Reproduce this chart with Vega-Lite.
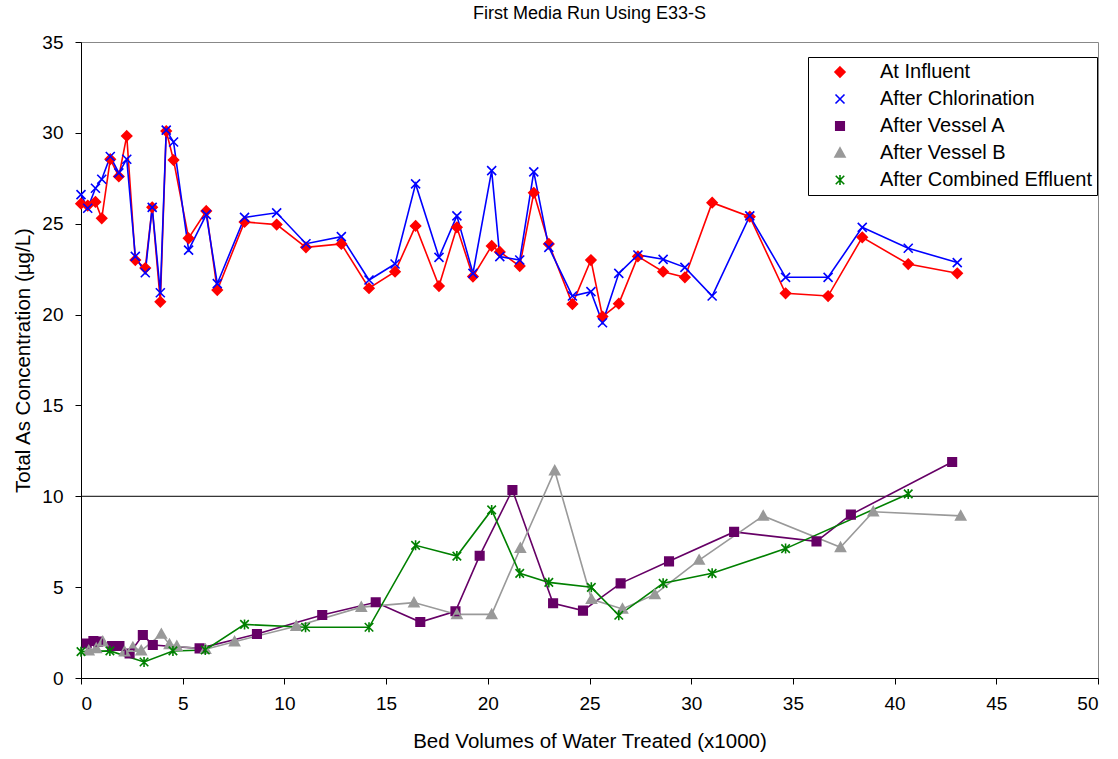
{
  "$schema": "https://vega.github.io/schema/vega-lite/v6.json",
  "width": 1017,
  "height": 636,
  "autosize": "none",
  "padding": {"left": 81, "top": 42, "right": 20, "bottom": 81},
  "background": "white",
  "config": {
    "font": "Liberation Sans",
    "view": {"stroke": "#888888", "strokeWidth": 1},
    "axis": {"grid": false, "domainColor": "black", "tickColor": "black", "labelColor": "black", "titleColor": "black", "labelFont": "Liberation Sans", "titleFont": "Liberation Sans", "titleFontWeight": "normal", "labelFontSize": 19, "titleFontSize": 20.5}
  },
  "title": {"text": "First Media Run Using E33-S", "fontSize": 18, "fontWeight": "normal", "font": "Liberation Sans", "color": "black", "anchor": "middle", "frame": "group", "offset": 10},
  "data": {"values": [
    {"s": "At Influent", "x": 0, "y": 26.1}, {"s": "At Influent", "x": 0.33, "y": 26.0}, {"s": "At Influent", "x": 0.71, "y": 26.2}, {"s": "At Influent", "x": 1.02, "y": 25.3}, {"s": "At Influent", "x": 1.44, "y": 28.55}, {"s": "At Influent", "x": 1.86, "y": 27.6}, {"s": "At Influent", "x": 2.25, "y": 29.83}, {"s": "At Influent", "x": 2.67, "y": 23.0}, {"s": "At Influent", "x": 3.16, "y": 22.56}, {"s": "At Influent", "x": 3.5, "y": 25.9}, {"s": "At Influent", "x": 3.9, "y": 20.7}, {"s": "At Influent", "x": 4.19, "y": 30.1}, {"s": "At Influent", "x": 4.55, "y": 28.5}, {"s": "At Influent", "x": 5.29, "y": 24.2}, {"s": "At Influent", "x": 6.16, "y": 25.7}, {"s": "At Influent", "x": 6.7, "y": 21.35}, {"s": "At Influent", "x": 8.04, "y": 25.1}, {"s": "At Influent", "x": 9.62, "y": 24.95}, {"s": "At Influent", "x": 11.06, "y": 23.7}, {"s": "At Influent", "x": 12.8, "y": 23.89}, {"s": "At Influent", "x": 14.16, "y": 21.45}, {"s": "At Influent", "x": 15.44, "y": 22.36}, {"s": "At Influent", "x": 16.45, "y": 24.88}, {"s": "At Influent", "x": 17.6, "y": 21.57}, {"s": "At Influent", "x": 18.48, "y": 24.8}, {"s": "At Influent", "x": 19.27, "y": 22.09}, {"s": "At Influent", "x": 20.19, "y": 23.78}, {"s": "At Influent", "x": 20.59, "y": 23.45}, {"s": "At Influent", "x": 21.57, "y": 22.67}, {"s": "At Influent", "x": 22.26, "y": 26.7}, {"s": "At Influent", "x": 23.0, "y": 23.89}, {"s": "At Influent", "x": 24.16, "y": 20.58}, {"s": "At Influent", "x": 25.07, "y": 23.0}, {"s": "At Influent", "x": 25.64, "y": 19.89}, {"s": "At Influent", "x": 26.44, "y": 20.6}, {"s": "At Influent", "x": 27.38, "y": 23.2}, {"s": "At Influent", "x": 28.62, "y": 22.36}, {"s": "At Influent", "x": 29.69, "y": 22.05}, {"s": "At Influent", "x": 31.03, "y": 26.16}, {"s": "At Influent", "x": 32.88, "y": 25.39}, {"s": "At Influent", "x": 34.64, "y": 21.17}, {"s": "At Influent", "x": 36.73, "y": 21.02}, {"s": "At Influent", "x": 38.41, "y": 24.25}, {"s": "At Influent", "x": 40.67, "y": 22.78}, {"s": "At Influent", "x": 43.08, "y": 22.27},
    {"s": "After Chlorination", "x": 0, "y": 26.6}, {"s": "After Chlorination", "x": 0.33, "y": 25.85}, {"s": "After Chlorination", "x": 0.71, "y": 26.95}, {"s": "After Chlorination", "x": 1.02, "y": 27.45}, {"s": "After Chlorination", "x": 1.44, "y": 28.7}, {"s": "After Chlorination", "x": 1.86, "y": 27.8}, {"s": "After Chlorination", "x": 2.25, "y": 28.55}, {"s": "After Chlorination", "x": 2.67, "y": 23.2}, {"s": "After Chlorination", "x": 3.16, "y": 22.3}, {"s": "After Chlorination", "x": 3.5, "y": 25.9}, {"s": "After Chlorination", "x": 3.9, "y": 21.2}, {"s": "After Chlorination", "x": 4.19, "y": 30.15}, {"s": "After Chlorination", "x": 4.55, "y": 29.5}, {"s": "After Chlorination", "x": 5.29, "y": 23.55}, {"s": "After Chlorination", "x": 6.16, "y": 25.5}, {"s": "After Chlorination", "x": 6.7, "y": 21.7}, {"s": "After Chlorination", "x": 8.04, "y": 25.35}, {"s": "After Chlorination", "x": 9.62, "y": 25.6}, {"s": "After Chlorination", "x": 11.06, "y": 23.9}, {"s": "After Chlorination", "x": 12.8, "y": 24.29}, {"s": "After Chlorination", "x": 14.16, "y": 21.9}, {"s": "After Chlorination", "x": 15.44, "y": 22.78}, {"s": "After Chlorination", "x": 16.45, "y": 27.19}, {"s": "After Chlorination", "x": 17.6, "y": 23.15}, {"s": "After Chlorination", "x": 18.48, "y": 25.43}, {"s": "After Chlorination", "x": 19.27, "y": 22.27}, {"s": "After Chlorination", "x": 20.19, "y": 27.92}, {"s": "After Chlorination", "x": 20.59, "y": 23.19}, {"s": "After Chlorination", "x": 21.57, "y": 23.0}, {"s": "After Chlorination", "x": 22.26, "y": 27.85}, {"s": "After Chlorination", "x": 23.0, "y": 23.7}, {"s": "After Chlorination", "x": 24.16, "y": 21.02}, {"s": "After Chlorination", "x": 25.07, "y": 21.26}, {"s": "After Chlorination", "x": 25.64, "y": 19.55}, {"s": "After Chlorination", "x": 26.44, "y": 22.27}, {"s": "After Chlorination", "x": 27.38, "y": 23.28}, {"s": "After Chlorination", "x": 28.62, "y": 23.04}, {"s": "After Chlorination", "x": 29.69, "y": 22.6}, {"s": "After Chlorination", "x": 31.03, "y": 21.02}, {"s": "After Chlorination", "x": 32.88, "y": 25.43}, {"s": "After Chlorination", "x": 34.64, "y": 22.05}, {"s": "After Chlorination", "x": 36.73, "y": 22.05}, {"s": "After Chlorination", "x": 38.41, "y": 24.8}, {"s": "After Chlorination", "x": 40.67, "y": 23.65}, {"s": "After Chlorination", "x": 43.08, "y": 22.86},
    {"s": "After Vessel A", "x": 0.28, "y": 1.9}, {"s": "After Vessel A", "x": 0.61, "y": 2.04}, {"s": "After Vessel A", "x": 0.84, "y": 2.0}, {"s": "After Vessel A", "x": 1.53, "y": 1.76}, {"s": "After Vessel A", "x": 1.89, "y": 1.76}, {"s": "After Vessel A", "x": 2.39, "y": 1.35}, {"s": "After Vessel A", "x": 3.04, "y": 2.37}, {"s": "After Vessel A", "x": 3.53, "y": 1.82}, {"s": "After Vessel A", "x": 5.83, "y": 1.63}, {"s": "After Vessel A", "x": 8.65, "y": 2.42}, {"s": "After Vessel A", "x": 11.86, "y": 3.47}, {"s": "After Vessel A", "x": 14.49, "y": 4.17}, {"s": "After Vessel A", "x": 16.68, "y": 3.08}, {"s": "After Vessel A", "x": 18.41, "y": 3.67}, {"s": "After Vessel A", "x": 19.6, "y": 6.73}, {"s": "After Vessel A", "x": 21.21, "y": 10.35}, {"s": "After Vessel A", "x": 23.21, "y": 4.11}, {"s": "After Vessel A", "x": 24.68, "y": 3.71}, {"s": "After Vessel A", "x": 26.53, "y": 5.21}, {"s": "After Vessel A", "x": 28.91, "y": 6.42}, {"s": "After Vessel A", "x": 32.11, "y": 8.04}, {"s": "After Vessel A", "x": 36.16, "y": 7.52}, {"s": "After Vessel A", "x": 37.85, "y": 8.99}, {"s": "After Vessel A", "x": 42.83, "y": 11.89},
    {"s": "After Vessel B", "x": 0.38, "y": 1.5}, {"s": "After Vessel B", "x": 0.75, "y": 1.63}, {"s": "After Vessel B", "x": 1.07, "y": 2.0}, {"s": "After Vessel B", "x": 2.14, "y": 1.45}, {"s": "After Vessel B", "x": 2.55, "y": 1.69}, {"s": "After Vessel B", "x": 2.96, "y": 1.5}, {"s": "After Vessel B", "x": 3.95, "y": 2.42}, {"s": "After Vessel B", "x": 4.35, "y": 1.85}, {"s": "After Vessel B", "x": 4.71, "y": 1.75}, {"s": "After Vessel B", "x": 6.12, "y": 1.58}, {"s": "After Vessel B", "x": 7.55, "y": 2.0}, {"s": "After Vessel B", "x": 10.58, "y": 2.85}, {"s": "After Vessel B", "x": 13.78, "y": 3.9}, {"s": "After Vessel B", "x": 16.37, "y": 4.15}, {"s": "After Vessel B", "x": 18.48, "y": 3.5}, {"s": "After Vessel B", "x": 20.19, "y": 3.5}, {"s": "After Vessel B", "x": 21.6, "y": 7.14}, {"s": "After Vessel B", "x": 23.29, "y": 11.41}, {"s": "After Vessel B", "x": 25.1, "y": 4.33}, {"s": "After Vessel B", "x": 26.62, "y": 3.8}, {"s": "After Vessel B", "x": 28.21, "y": 4.6}, {"s": "After Vessel B", "x": 30.39, "y": 6.49}, {"s": "After Vessel B", "x": 33.54, "y": 8.92}, {"s": "After Vessel B", "x": 37.34, "y": 7.19}, {"s": "After Vessel B", "x": 38.95, "y": 9.15}, {"s": "After Vessel B", "x": 43.25, "y": 8.92},
    {"s": "After Combined Effluent", "x": 0, "y": 1.45}, {"s": "After Combined Effluent", "x": 1.42, "y": 1.49}, {"s": "After Combined Effluent", "x": 3.1, "y": 0.88}, {"s": "After Combined Effluent", "x": 4.52, "y": 1.49}, {"s": "After Combined Effluent", "x": 6.11, "y": 1.54}, {"s": "After Combined Effluent", "x": 8.04, "y": 2.95}, {"s": "After Combined Effluent", "x": 11.04, "y": 2.79}, {"s": "After Combined Effluent", "x": 14.16, "y": 2.79}, {"s": "After Combined Effluent", "x": 16.45, "y": 7.3}, {"s": "After Combined Effluent", "x": 18.48, "y": 6.71}, {"s": "After Combined Effluent", "x": 20.19, "y": 9.25}, {"s": "After Combined Effluent", "x": 21.57, "y": 5.76}, {"s": "After Combined Effluent", "x": 23.0, "y": 5.26}, {"s": "After Combined Effluent", "x": 25.09, "y": 4.99}, {"s": "After Combined Effluent", "x": 26.44, "y": 3.45}, {"s": "After Combined Effluent", "x": 28.62, "y": 5.21}, {"s": "After Combined Effluent", "x": 31.03, "y": 5.76}, {"s": "After Combined Effluent", "x": 34.64, "y": 7.12}, {"s": "After Combined Effluent", "x": 40.67, "y": 10.13}
  ]},
  "layer": [
    {
      "data": {"values": [{"v": 10}]},
      "mark": {"type": "rule", "color": "black", "strokeWidth": 1},
      "encoding": {"y": {"field": "v", "type": "quantitative"}}
    },
    {
      "mark": {"type": "line", "strokeWidth": 1.6},
      "encoding": {
        "x": {"field": "x", "type": "quantitative", "scale": {"domain": [0, 50], "nice": false}, "axis": {"title": "Bed Volumes of Water Treated (x1000)", "values": [0, 5, 10, 15, 20, 25, 30, 35, 40, 45, 50], "tickSize": 6, "labelPadding": 10, "titlePadding": 18}},
        "y": {"field": "y", "type": "quantitative", "scale": {"domain": [0, 35], "nice": false}, "axis": {"title": "Total As Concentration (µg/L)", "values": [0, 5, 10, 15, 20, 25, 30, 35], "tickSize": 6, "labelPadding": 12, "titlePadding": 8}},
        "color": {"field": "s", "type": "nominal", "scale": {"domain": ["At Influent", "After Chlorination", "After Vessel A", "After Vessel B", "After Combined Effluent"], "range": ["#FF0000", "#0000FF", "#660066", "#999999", "#008000"]},
          "legend": {"title": null, "orient": "none", "legendX": 727, "legendY": 15}}
      }
    },
    {
      "mark": {"type": "point", "size": 100, "filled": true, "opacity": 1},
      "encoding": {
        "x": {"field": "x", "type": "quantitative"},
        "y": {"field": "y", "type": "quantitative"},
        "color": {"field": "s", "type": "nominal",
          "legend": {"title": null, "orient": "none", "legendX": 727, "legendY": 15, "strokeColor": "black", "fillColor": "white", "padding": 5, "cornerRadius": 0,
            "labelFont": "Liberation Sans", "labelFontSize": 20, "labelColor": "black", "labelLimit": 400,
            "symbolSize": 100, "symbolStrokeWidth": 1.6, "symbolOffset": 17, "labelOffset": 30, "rowPadding": 7,
            "encode": {"symbols": {"update": {
              "fill": {"scale": "color", "field": "value"},
              "stroke": {"scale": "color", "field": "value"},
              "strokeWidth": {"value": 1.6},
              "opacity": {"value": 1},
              "shape": {"signal": "datum.value === 'At Influent' ? 'M-3.6,0L3.6,0M0,-1L1,0L0,1L-1,0Z' : datum.value === 'After Chlorination' ? 'M-3.6,0L3.6,0M-0.9,-0.9L0.9,0.9M-0.9,0.9L0.9,-0.9' : datum.value === 'After Vessel A' ? 'M-3.6,0L3.6,0M-0.85,-0.85L0.85,-0.85L0.85,0.85L-0.85,0.85Z' : datum.value === 'After Vessel B' ? 'M-3.6,0L3.6,0M0,-1L1,0.8L-1,0.8Z' : 'M-3.6,0L3.6,0M0,-1L0,1M-0.85,-0.85L0.85,0.85M-0.85,0.85L0.85,-0.85'"}
            }}}
          }
        },
        "shape": {"field": "s", "type": "nominal", "scale": {"domain": ["At Influent", "After Chlorination", "After Vessel A", "After Vessel B", "After Combined Effluent"], "range": ["M0,-1L1,0L0,1L-1,0Z", "M-0.9,-0.9L0.9,0.9M-0.9,0.9L0.9,-0.9", "M-0.85,-0.85L0.85,-0.85L0.85,0.85L-0.85,0.85Z", "M0,-1L1,0.8L-1,0.8Z", "M0,-1L0,1M-0.85,-0.85L0.85,0.85M-0.85,0.85L0.85,-0.85"]},
          "legend": {"title": null, "orient": "none", "legendX": 727, "legendY": 15}}
      }
    },
    {
      "mark": {"type": "point", "size": 100, "filled": false, "strokeWidth": 1.6, "opacity": 1},
      "encoding": {
        "x": {"field": "x", "type": "quantitative"},
        "y": {"field": "y", "type": "quantitative"},
        "color": {"field": "s", "type": "nominal", "legend": {"title": null, "orient": "none", "legendX": 727, "legendY": 15}},
        "shape": {"field": "s", "type": "nominal", "legend": {"title": null, "orient": "none", "legendX": 727, "legendY": 15}}
      }
    }
  ]
}
